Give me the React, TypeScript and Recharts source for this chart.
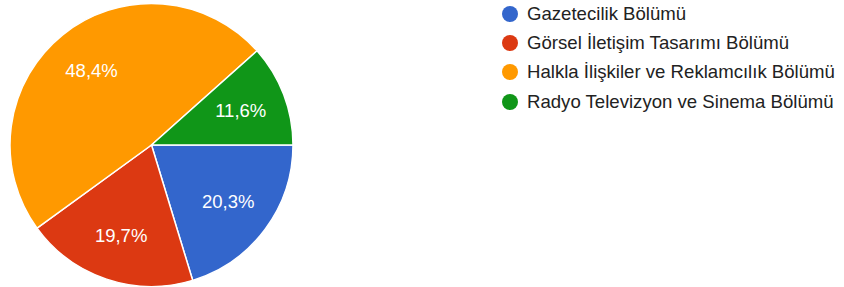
import React from "react";
import { PieChart, Pie, Cell, Legend } from "recharts";

const categories = [
  "Gazetecilik Bölümü",
  "Görsel İletişim Tasarımı Bölümü",
  "Halkla İlişkiler ve Reklamcılık Bölümü",
  "Radyo Televizyon ve Sinema Bölümü",
];
const values = [20.3, 19.7, 48.4, 11.6];
const labels = ["20,3%", "19,7%", "48,4%", "11,6%"];
const colors = ["#3366CC", "#DC3912", "#FF9900", "#109618"];

const data = categories.map((name, i) => ({ name, value: values[i], label: labels[i] }));

const RAD = Math.PI / 180;

const renderLabel = (props: any) => {
  const { cx, cy, midAngle, outerRadius, index } = props;
  const r = outerRadius * 0.675;
  const x = cx + r * Math.cos(-midAngle * RAD);
  const y = cy + r * Math.sin(-midAngle * RAD);
  return (
    <text
      x={x}
      y={y}
      fill="#ffffff"
      textAnchor="middle"
      dominantBaseline="central"
      fontFamily="Arial, 'Liberation Sans', sans-serif"
      fontSize={18.5}
    >
      {data[index].label}
    </text>
  );
};

const renderLegend = () => (
  <div style={{ fontFamily: "Arial, 'Liberation Sans', sans-serif" }}>
    {data.map((d, i) => (
      <div
        key={d.name}
        style={{ display: "flex", alignItems: "center", height: 29.3 }}
      >
        <span
          style={{
            display: "inline-block",
            width: 16,
            height: 16,
            borderRadius: 8,
            background: colors[i],
            marginRight: 9,
            flexShrink: 0,
          }}
        />
        <span style={{ fontSize: 18.6, color: "#222222", whiteSpace: "nowrap" }}>{d.name}</span>
      </div>
    ))}
  </div>
);

export default function App() {
  return (
    <div style={{ position: "absolute", left: 0, top: 0, background: "#fff" }}>
      <PieChart width={844} height={287} margin={{ top: 0, right: 0, bottom: 0, left: 0 }}>
        <Pie
          data={data}
          dataKey="value"
          nameKey="name"
          cx={151.5}
          cy={145}
          outerRadius={141.5}
          startAngle={0}
          endAngle={-360}
          stroke="#ffffff"
          strokeWidth={1.5}
          label={renderLabel}
          labelLine={false}
          isAnimationActive={false}
        >
          {data.map((d, i) => (
            <Cell key={d.name} fill={colors[i]} />
          ))}
        </Pie>
        <Legend
          content={renderLegend}
          layout="vertical"
          align="right"
          verticalAlign="top"
          wrapperStyle={{ position: "absolute", left: 502, top: -1, width: 342 }}
        />
      </PieChart>
    </div>
  );
}
